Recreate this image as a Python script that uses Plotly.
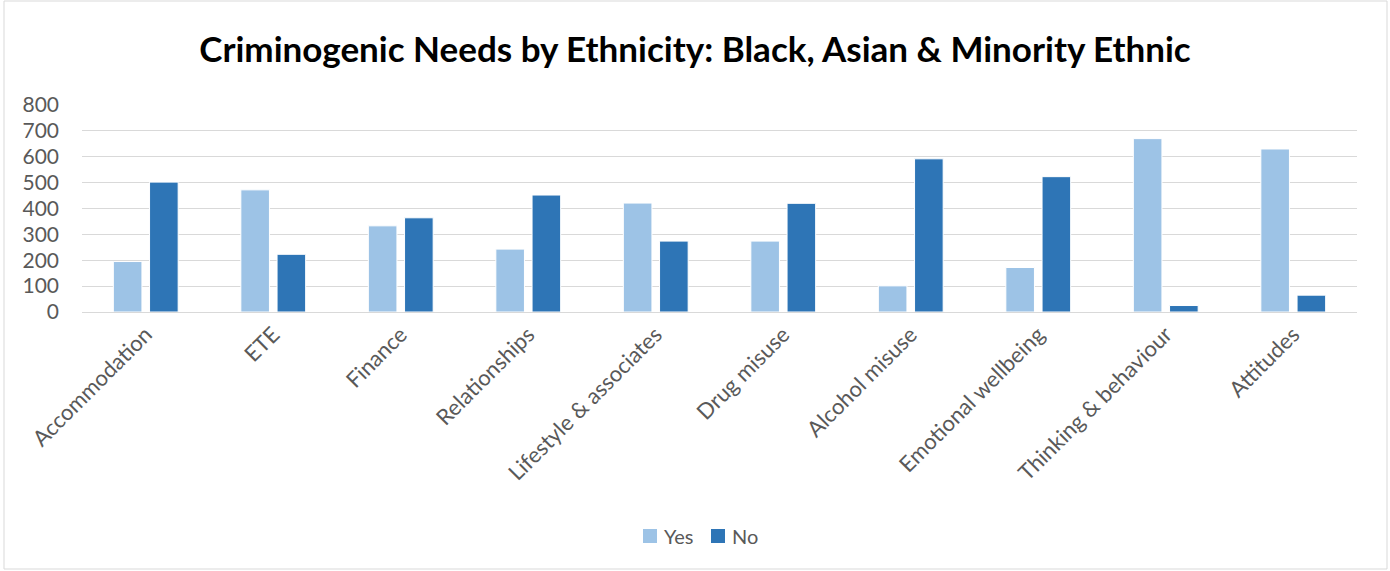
import plotly.graph_objects as go

categories = ["Accommodation", "ETE", "Finance", "Relationships", "Lifestyle & associates",
              "Drug misuse", "Alcohol misuse", "Emotional wellbeing", "Thinking & behaviour", "Attitudes"]
yes_values = [195, 472, 333, 243, 421, 274, 101, 172, 670, 630]
no_values = [502, 223, 364, 452, 274, 420, 592, 523, 25, 65]
y_ticks = [0, 100, 200, 300, 400, 500, 600, 700, 800]
series_names = ["Yes", "No"]
series_colors = ["#9DC3E6", "#2E75B6"]

W, H = 1390, 571
L, R, T, B = 82, 1357, 105, 312
pw = R - L
ph = B - T


def px(x):
    return (x - L) / pw


def py(y):
    return (B - y) / ph


fig = go.Figure()
for name, vals, col in zip(series_names, [yes_values, no_values], series_colors):
    fig.add_trace(go.Bar(name=name, x=categories, y=vals, showlegend=False,
                         marker=dict(color=col, line=dict(color="#FFFFFF", width=1))))

# chart border
fig.add_shape(type="rect", xref="paper", yref="paper",
              x0=px(4), x1=px(1387), y0=py(569), y1=py(1),
              line=dict(color="#D9D9D9", width=1), layer="below")

# manual legend (Excel style: small square + label)
legend_x = [643, 711]
for name, col, lx in zip(series_names, series_colors, legend_x):
    fig.add_shape(type="rect", xref="paper", yref="paper",
                  x0=px(lx), x1=px(lx + 14), y0=py(543), y1=py(529),
                  fillcolor=col, line=dict(width=0))
    fig.add_annotation(xref="paper", yref="paper", x=px(lx + 19), y=py(536),
                       text=name, showarrow=False, xanchor="left", yanchor="middle",
                       font=dict(family="Lato", size=20, color="#595959"))

fig.update_layout(
    width=W, height=H,
    margin=dict(l=L, r=W - R, t=T, b=H - B, autoexpand=False),
    paper_bgcolor="white", plot_bgcolor="white",
    title=dict(text="<b>Criminogenic Needs by Ethnicity: Black, Asian &amp; Minority Ethnic</b>",
               x=0.5, xanchor="center", y=1 - 50 / H, yanchor="middle",
               font=dict(family="Lato", size=35, color="#000000")),
    barmode="group", bargap=0.432, bargroupgap=0.21,
    showlegend=False,
    xaxis=dict(tickangle=-45, tickfont=dict(family="Lato", size=22, color="#595959"),
               showgrid=False, showline=True, linecolor="#D9D9D9", linewidth=1,
               ticks=""),
    yaxis=dict(range=[0, 800], tickvals=y_ticks, showgrid=True, gridcolor="#D9D9D9", gridwidth=1,
               zeroline=True, zerolinecolor="#D9D9D9", zerolinewidth=1,
               tickfont=dict(family="Lato", size=21, color="#595959"),
               ticklabelstandoff=22, showline=False),
    font=dict(family="Lato"),
)

fig.write_html("out.html", config={"displayModeBar": False},
               post_script="document.body.style.margin='0';")
